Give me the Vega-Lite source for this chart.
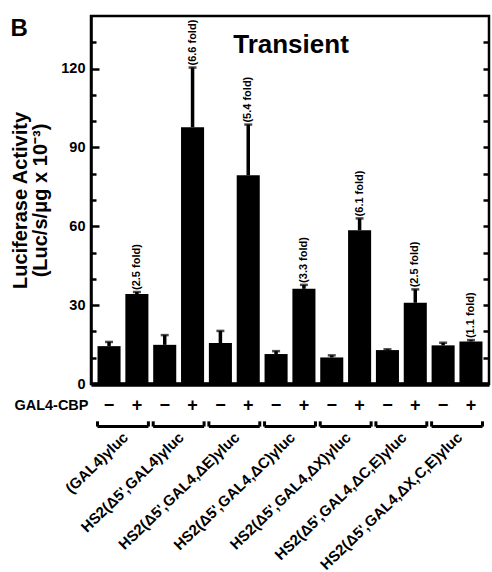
{
  "$schema": "https://vega.github.io/schema/vega-lite/v6.json",
  "width": 398,
  "height": 368,
  "autosize": "none",
  "padding": {"left": 91, "top": 16, "right": 3, "bottom": 188},
  "background": "white",
  "config": {
    "view": {"stroke": "black", "strokeWidth": 2.5},
    "font": "Liberation Sans"
  },
  "resolve": {"axis": {"y": "independent"}},
  "datasets": {
    "bars": [
      {"id": "1−", "value": 14.4, "upper": 16.0, "fold": ""},
      {"id": "1+", "value": 34.2, "upper": 35.0, "fold": "(2.5 fold)"},
      {"id": "2−", "value": 14.9, "upper": 18.6, "fold": ""},
      {"id": "2+", "value": 97.7, "upper": 120.4, "fold": "(6.6 fold)"},
      {"id": "3−", "value": 15.6, "upper": 20.2, "fold": ""},
      {"id": "3+", "value": 79.4, "upper": 98.7, "fold": "(5.4 fold)"},
      {"id": "4−", "value": 11.4, "upper": 12.5, "fold": ""},
      {"id": "4+", "value": 36.2, "upper": 37.7, "fold": "(3.3 fold)"},
      {"id": "5−", "value": 10.1, "upper": 10.9, "fold": ""},
      {"id": "5+", "value": 58.5, "upper": 63.0, "fold": "(6.1 fold)"},
      {"id": "6−", "value": 12.9, "upper": 13.2, "fold": ""},
      {"id": "6+", "value": 30.9, "upper": 36.0, "fold": "(2.5 fold)"},
      {"id": "7−", "value": 14.7, "upper": 15.7, "fold": ""},
      {"id": "7+", "value": 16.2, "upper": 16.7, "fold": "(1.1 fold)"}
    ],
    "groups": [
      {"minus": "1−", "plus": "1+", "label": "(GAL4)γluc"},
      {"minus": "2−", "plus": "2+", "label": "HS2(Δ5',GAL4)γluc"},
      {"minus": "3−", "plus": "3+", "label": "HS2(Δ5',GAL4,ΔE)γluc"},
      {"minus": "4−", "plus": "4+", "label": "HS2(Δ5',GAL4,ΔC)γluc"},
      {"minus": "5−", "plus": "5+", "label": "HS2(Δ5',GAL4,ΔX)γluc"},
      {"minus": "6−", "plus": "6+", "label": "HS2(Δ5',GAL4,ΔC,E)γluc"},
      {"minus": "7−", "plus": "7+", "label": "HS2(Δ5',GAL4,ΔX,C,E)γluc"}
    ]
  },
  "layer": [
    {
      "data": {"name": "bars"},
      "mark": {"type": "bar", "color": "black"},
      "encoding": {
        "x": {
          "field": "id",
          "type": "nominal",
          "scale": {
            "domain": ["1−","1+","2−","2+","3−","3+","4−","4+","5−","5+","6−","6+","7−","7+"],
            "paddingInner": 0.172,
            "paddingOuter": 0.234
          },
          "axis": {
            "title": "GAL4-CBP",
            "titleX": -3,
            "titleY": 21,
            "titleAlign": "right",
            "titleBaseline": "middle",
            "titleFontSize": 14.5,
            "titleFontWeight": "bold",
            "titleColor": "black",
            "labelExpr": "substring(datum.value, 1)",
            "labelAngle": 0,
            "labelFontSize": 18,
            "labelFontWeight": "bold",
            "labelColor": "black",
            "labelBaseline": "middle",
            "labelPadding": 21,
            "ticks": false,
            "domainColor": "black",
            "domainWidth": 4.5
          }
        },
        "y": {
          "field": "value",
          "type": "quantitative",
          "scale": {"domain": [0, 140], "nice": false},
          "axis": {
            "orient": "left",
            "title": ["Luciferase Activity", "(Luc/s/μg x 10⁻³)"],
            "titleFontSize": 20,
            "titleFontWeight": "bold",
            "titleColor": "black",
            "titleLineHeight": 20,
            "titlePadding": 10,
            "values": [0, 30, 60, 90, 120],
            "labelFontSize": 14.5,
            "labelFontWeight": "bold",
            "labelColor": "black",
            "labelPadding": 14,
            "tickSize": -8,
            "tickColor": "black",
            "tickWidth": 2.5,
            "domainColor": "black",
            "domainWidth": 2.5,
            "grid": false
          }
        }
      }
    },
    {
      "data": {"name": "bars"},
      "mark": {"type": "rule", "color": "black", "strokeWidth": 3.5},
      "encoding": {
        "x": {"field": "id", "type": "nominal"},
        "y": {
          "field": "value",
          "type": "quantitative",
          "axis": {
            "orient": "left",
            "title": "B",
            "titleAngle": 0,
            "titleX": -81,
            "titleY": 0,
            "titleAlign": "left",
            "titleBaseline": "top",
            "titleFontSize": 24,
            "titleFontWeight": "bold",
            "titleColor": "black",
            "values": [10, 20, 40, 50, 70, 80, 100, 110, 130],
            "labels": false,
            "tickSize": -5,
            "tickColor": "black",
            "tickWidth": 2.5,
            "domain": false,
            "grid": false
          }
        },
        "y2": {"field": "upper"}
      }
    },
    {
      "data": {"name": "bars"},
      "mark": {"type": "tick", "color": "black", "thickness": 2.5, "size": 8},
      "encoding": {
        "x": {"field": "id", "type": "nominal"},
        "y": {
          "field": "upper",
          "type": "quantitative",
          "axis": {
            "orient": "right",
            "title": "Transient",
            "titleAngle": 0,
            "titleX": -198.5,
            "titleY": 36,
            "titleAlign": "center",
            "titleBaseline": "alphabetic",
            "titleFontSize": 26,
            "titleFontWeight": "bold",
            "titleColor": "black",
            "values": [10, 20, 30, 40, 50, 60, 70, 80, 90, 100, 110, 120, 130],
            "labels": false,
            "tickSize": -6,
            "tickColor": "black",
            "tickWidth": 2.5,
            "domain": false,
            "grid": false
          }
        }
      }
    },
    {
      "data": {"name": "bars"},
      "mark": {"type": "text", "angle": 270, "align": "left", "baseline": "middle", "dx": 2, "fontSize": 11, "fontWeight": "bold", "color": "black"},
      "encoding": {
        "x": {"field": "id", "type": "nominal"},
        "y": {"field": "upper", "type": "quantitative", "axis": null},
        "text": {"field": "fold"}
      }
    },
    {
      "data": {"name": "groups"},
      "mark": {"type": "rule", "color": "black", "strokeWidth": 3},
      "encoding": {
        "x": {"field": "minus", "type": "nominal", "bandPosition": 0},
        "x2": {"field": "plus", "bandPosition": 1},
        "y": {"datum": -16.2, "axis": null}
      }
    },
    {
      "data": {"name": "groups"},
      "mark": {"type": "rule", "color": "black", "strokeWidth": 3},
      "encoding": {
        "x": {"field": "minus", "type": "nominal", "bandPosition": 0},
        "y": {"datum": -14.2, "axis": null},
        "y2": {"datum": -16.2}
      }
    },
    {
      "data": {"name": "groups"},
      "mark": {"type": "rule", "color": "black", "strokeWidth": 3},
      "encoding": {
        "x": {"field": "plus", "type": "nominal", "bandPosition": 1},
        "y": {"datum": -14.2, "axis": null},
        "y2": {"datum": -16.2}
      }
    },
    {
      "data": {"name": "groups"},
      "mark": {"type": "text", "angle": 316, "align": "right", "baseline": "top", "fontSize": 15, "fontWeight": "bold", "color": "black"},
      "encoding": {
        "x": {"field": "plus", "type": "nominal", "bandPosition": -0.2},
        "y": {"datum": -17.5, "axis": null},
        "text": {"field": "label"}
      }
    }
  ]
}
